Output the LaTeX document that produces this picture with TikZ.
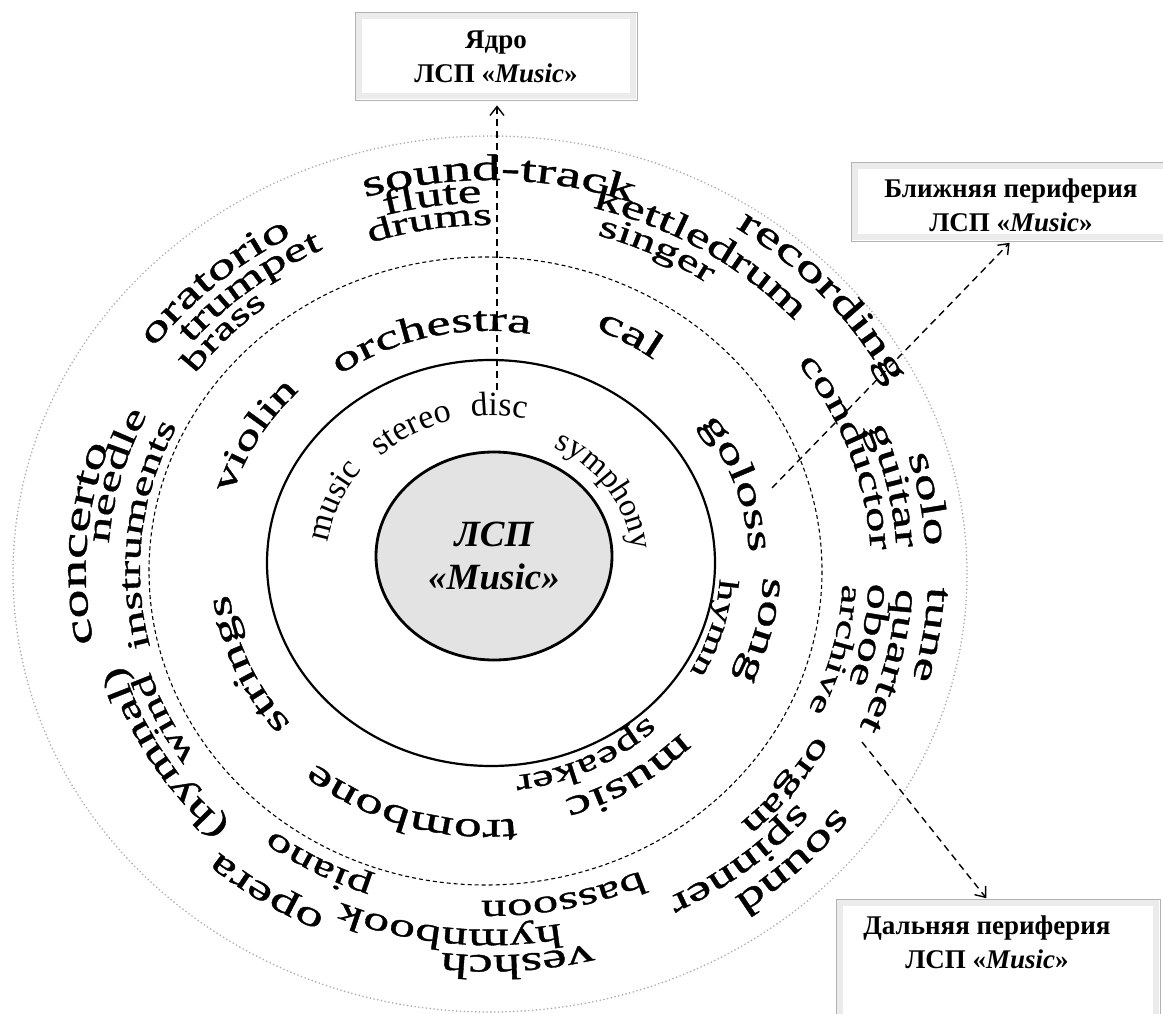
\documentclass[tikz,border=0pt]{standalone}
\usepackage{fontspec}
\setmainfont{Liberation Serif}
\newfontfamily\widefont[FakeStretch=1.55,FakeBold=1.1]{Liberation Serif}
\usetikzlibrary{decorations.text,shapes.geometric,arrows.meta}

% A word set along an elliptical ring, clockwise, letters facing outward.
% #1,#2 ring centre; #3 x/y ratio; #4 radius of the word's middle;
% #5 parametric angle of the word's middle; #6 font size; #7 font; #8 word
\newcommand\ringword[8]{%
  \pgfmathsetmacro\rwb{#4-0.22*#6}%
  \pgfmathsetmacro\rwa{#3*\rwb}%
  \pgfmathsetmacro\rws{#5-70}%
  \pgfmathsetmacro\rwe{#5+70}%
  \pgfmathsetmacro\rwx{#1+\rwa*cos(\rws)}%
  \pgfmathsetmacro\rwy{#2+\rwb*sin(\rws)}%
  \path[decorate, decoration={text along path, text align=center,
      text={|#7\fontsize{#6}{#6}\selectfont|#8}}]
    (\rwx,\rwy) arc[start angle=\rws, end angle=\rwe, x radius=\rwa, y radius=\rwb];}

\begin{document}
\begin{tikzpicture}[x=1pt,y=-1pt,
  outerring/.style={draw=gray!65, line width=1.8, line cap=round, dash pattern=on 0pt off 3.8pt},
  midring/.style={draw=black, line width=1.1, dash pattern=on 4pt off 3pt},
  innerring/.style={draw=black, line width=2.2},
  coreshape/.style={ellipse, draw=black, line width=2.8, fill=gray!22,
    minimum width=236, minimum height=208, inner sep=0, align=center,
    font=\bfseries\itshape\fontsize{37}{43}\selectfont},
  fieldbox/.style={rectangle, draw=gray!60, line width=0.8, fill=white, inner sep=0},
  bevel/.style={draw=gray!16, line width=6},
  boxtext/.style={align=center, inner sep=0, font=\bfseries\fontsize{27}{34}\selectfont},
  pointer/.style={line width=1.4, dash pattern=on 7pt off 5pt,
    -{Straight Barb[length=9pt,width=14pt]}}
]
\useasboundingbox (0,0) rectangle (1163,1014);

% rings
\draw[outerring] (490,574) ellipse [x radius=477, y radius=438];
\draw[midring] (485.5,571) ellipse [x radius=336.5, y radius=314];
\draw[innerring] (491,563) ellipse [x radius=224, y radius=203];
\node[coreshape] (core) at (494,556) {ЛСП\\«Music»};

% inner ring words
\ringword{491}{563}{1.1}{157}{-158.3}{34}{\rmfamily}{music}
\ringword{491}{563}{1.1}{154}{-120.4}{34}{\rmfamily}{stereo}
\ringword{491}{563}{1.1}{155}{-87}{34}{\rmfamily}{disc}
\ringword{491}{563}{1.1}{136}{-33}{32.5}{\rmfamily}{symphony}

% middle ring words
\ringword{488}{566}{1.08}{243}{-103.8}{35.2}{\widefont}{orchestra}
\ringword{488}{566}{1.08}{255}{-150.6}{34.4}{\widefont}{violin}
\ringword{488}{566}{1.08}{265}{-58.6}{36.8}{\widefont}{cal}
\ringword{488}{566}{1.08}{250}{-18.5}{35.5}{\widefont}{goloss}
\ringword{488}{566}{1.08}{263}{13.4}{36}{\widefont}{song}
\ringword{488}{566}{1.08}{221}{15.5}{28}{\widefont}{hymn}
\ringword{488}{566}{1.08}{252}{56.5}{36.8}{\widefont}{music}
\ringword{488}{566}{1.08}{218}{63}{31.2}{\widefont}{speaker}
\ringword{488}{566}{1.08}{262}{107.5}{36}{\widefont}{trombone}
\ringword{488}{566}{1.08}{249}{157.5}{35.2}{\widefont}{strings}

% outer ring words
\ringword{490}{570}{1.09}{388}{-133.4}{36.5}{\widefont}{oratorio}
\ringword{490}{570}{1.09}{363}{-130}{34}{\widefont}{trumpet}
\ringword{490}{570}{1.09}{341}{-138}{31.5}{\widefont}{brass}
\ringword{490}{570}{1.09}{352}{-99.8}{32}{\widefont}{drums}
\ringword{490}{570}{1.09}{375}{-98.8}{34.4}{\widefont}{flute}
\ringword{490}{570}{1.09}{398}{-88.7}{37}{\widefont}{sound-track}
\ringword{490}{570}{1.09}{418}{-39.7}{37.5}{\widefont}{recording}
\ringword{490}{570}{1.09}{382}{-56.8}{35}{\widefont}{kettledrum}
\ringword{490}{570}{1.09}{356}{-62.7}{32}{\widefont}{singer}
\ringword{490}{570}{1.09}{357}{-18.5}{33}{\widefont}{conductor}
\ringword{490}{570}{1.09}{381}{-12}{34.5}{\widefont}{guitar}
\ringword{490}{570}{1.09}{408}{-9.3}{36}{\widefont}{solo}
\ringword{490}{570}{1.09}{410}{8.4}{35.2}{\widefont}{tune}
\ringword{490}{570}{1.09}{381}{12.9}{33.6}{\widefont}{quartet}
\ringword{490}{570}{1.09}{355}{9.8}{34}{\widefont}{oboe}
\ringword{490}{570}{1.09}{330}{13.1}{28.8}{\widefont}{archive}
\ringword{490}{570}{1.09}{349}{36.3}{33}{\widefont}{organ}
\ringword{490}{570}{1.09}{374}{49.5}{35.5}{\widefont}{spinner}
\ringword{490}{570}{1.09}{405}{44.1}{37}{\widefont}{sound}
\ringword{490}{570}{1.09}{338}{77.5}{32.8}{\widefont}{bassoon}
\ringword{490}{570}{1.09}{367}{96.4}{33.6}{\widefont}{hymnbook}
\ringword{490}{570}{1.09}{393}{86}{35.2}{\widefont}{veshch}
\ringword{490}{570}{1.09}{335}{120}{32.8}{\widefont}{piano}
\ringword{490}{570}{1.09}{384}{124.5}{36}{\widefont}{opera}
\ringword{490}{570}{1.09}{358}{150.4}{34.4}{\widefont}{(hymnal)}
\ringword{490}{570}{1.09}{335}{155.3}{31.2}{\widefont}{wind}
\ringword{490}{570}{1.09}{328}{186}{31.5}{\widefont}{instruments}
\ringword{490}{570}{1.09}{358}{194.3}{33.6}{\widefont}{needle}
\ringword{490}{570}{1.09}{379}{183.8}{37.5}{\widefont}{concerto}

% label boxes
\node[fieldbox, minimum width=282, minimum height=88] (kernel) at (496,56) {};
\draw[bevel] ([shift={(4,-4)}]kernel.south west) rectangle ([shift={(-4,4)}]kernel.north east);
\node[boxtext] (kernellabel) at (496,57) {Ядро\\ЛСП «\textit{Music}»};

\node[fieldbox, minimum width=320, minimum height=79] (near) at (1011,201.5) {};
\draw[bevel] ([shift={(4,-4)}]near.south west) rectangle ([shift={(-4,4)}]near.north east);
\node[boxtext] (nearlabel) at (1011,205) {Ближняя периферия\\ЛСП «\textit{Music}»};

\node[fieldbox, minimum width=324, minimum height=130, anchor=north] (far) at (998,899) {};
\draw[bevel] ([shift={(4,-4)}]far.south west) rectangle ([shift={(-4,4)}]far.north east);
\node[boxtext] (farlabel) at (987,942) {Дальняя периферия\\ЛСП «\textit{Music}»};

% pointers from the rings to the boxes
\coordinate (kernelfoot) at (497,390);
\coordinate (nearfoot) at (772,488);
\coordinate (farfoot) at (862,742);
\draw[pointer, shorten >=5pt] (kernelfoot) -- ([xshift=1]kernel.south);
\draw[pointer, shorten >=2pt] (nearfoot) -- (near.south);
\draw[pointer, shorten >=1pt] (farfoot) -- ([xshift=-11]far.north);
\end{tikzpicture}
\end{document}
